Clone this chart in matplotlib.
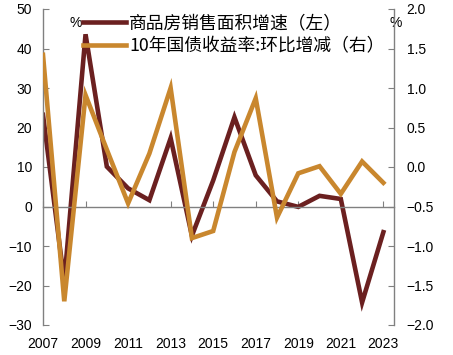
import matplotlib
matplotlib.use("Agg")
import matplotlib.pyplot as plt
import numpy as np

plt.rcParams['font.family'] = ['Liberation Sans', 'Noto Sans CJK SC', 'DejaVu Sans']
plt.rcParams['axes.unicode_minus'] = True

years = list(range(2007, 2024))
sales_area_growth = [23.2, -19.0, 43.6, 10.1, 4.6, 1.6, 17.3, -7.4, 6.6, 22.6,
                     7.9, 1.3, -0.1, 2.7, 1.9, -24.3, -6.5]
bond_yield_change = [1.42, -1.70, 0.91, 0.22, -0.46, 0.17, 1.00, -0.90, -0.81, 0.19,
                     0.87, -0.64, -0.08, 0.01, -0.34, 0.07, -0.20]
label_left = "商品房销售面积增速（左）"
label_right = "10年国债收益率:环比增减（右）"
xtick_years = list(range(2007, 2024, 2))

brown = "#6B2020"
gold = "#C9872E"
gray = "#808080"

W, H = 453, 355
fig = plt.figure(figsize=(W / 100, H / 100), dpi=100)
ax = fig.add_axes([43 / W, 30 / H, (394 - 43) / W, (325 - 9) / H])
ax2 = ax.twinx()

l1, = ax.plot(years, sales_area_growth, color=brown, lw=3.3, solid_joinstyle='miter', label=label_left, zorder=2)
l2, = ax2.plot(years, bond_yield_change, color=gold, lw=3.3, solid_joinstyle='miter', label=label_right, zorder=3)

ax.set_xlim(2007, 2023.5)
ax.set_ylim(-30, 50)
ax.set_yticks(range(-30, 51, 10))
ax2.set_ylim(-2.0, 2.0)
ax2.set_yticks(np.arange(-2.0, 2.01, 0.5))
ax2.set_yticklabels([f"{v:.1f}".replace("-", "\u2212") for v in np.arange(-2.0, 2.01, 0.5)])

for a in (ax, ax2):
    a.spines['top'].set_visible(False)
    for s in a.spines.values():
        s.set_color(gray)
        s.set_linewidth(1.0)
ax.spines['right'].set_visible(False)
ax2.spines['left'].set_visible(False)
ax2.spines['bottom'].set_visible(False)
ax.spines['bottom'].set_position(('data', 0))

ax.set_xticks(xtick_years)
ax.tick_params(axis='x', direction='in', length=4, color=gray, labelbottom=False)
ax.tick_params(axis='y', direction='in', length=4, color=gray, labelsize=10, pad=8)
ax2.tick_params(axis='y', direction='in', length=4, color=gray, labelsize=10, pad=9)

sec = ax.secondary_xaxis(0)
sec.set_xticks(xtick_years)
sec.set_xticklabels([str(y) for y in xtick_years])
sec.tick_params(length=0, labelsize=10, pad=9)
sec.spines['bottom'].set_visible(False)

ax.text(0.094, 0.957, "%", transform=ax.transAxes, ha='center', va='center', fontsize=10)
ax.text(1.006, 0.955, "%", transform=ax.transAxes, ha='center', va='center', fontsize=10)

leg = ax.legend(handles=[l1, l2], loc='upper left', bbox_to_anchor=(0.114, 0.984),
                frameon=False, handlelength=2.4, handletextpad=0.2,
                borderpad=0, borderaxespad=0, labelspacing=0.3,
                prop={'family': ['Noto Sans CJK SC', 'DejaVu Sans'], 'size': 12.8})
leg.set_zorder(5)

fig.savefig("out.png", dpi=100)
